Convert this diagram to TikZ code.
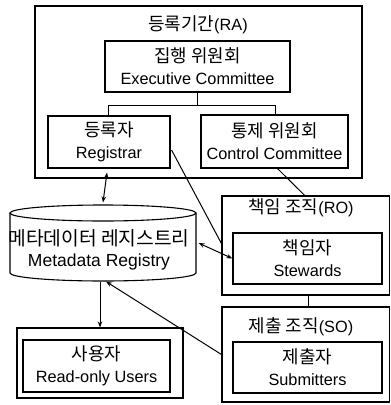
\documentclass[tikz,border=0pt]{standalone}
\usepackage{fontspec}
\setmainfont{Liberation Sans}
\newfontfamily\kr[Scale=1.1]{Noto Sans CJK KR}
\usetikzlibrary{arrows.meta,calc}
\begin{document}
\begin{tikzpicture}[x=1pt,y=-1pt,
  box/.style={draw,line width=1.1pt,rectangle,inner sep=0pt,align=center,
    font=\fontsize{16.3}{22}\selectfont},
  lbl/.style={inner sep=0pt,font=\fontsize{16.3}{22}\selectfont},
  ln/.style={line width=1pt},
  arr/.style={line width=1pt,-{Stealth[length=6pt,width=4.5pt]}},
  darr/.style={line width=1pt,{Stealth[length=6pt,width=4.5pt]}-{Stealth[length=6pt,width=4.5pt]}}]
\useasboundingbox (0,0) rectangle (391,405);
% RA group
\node[box,minimum width=327,minimum height=172] (ra) at (198.5,92) {};
\node[lbl] (ratitle) at (198,25) {{\kr 등록기간}(RA)};
\node[box,minimum width=185,minimum height=51] (exec) at (197.5,66.5) {{\kr 집행 위원회}\\Executive Committee};
\node[box,minimum width=122,minimum height=52] (reg) at (109,142) {{\kr 등록자}\\Registrar};
\node[box,minimum width=147,minimum height=53] (ctrl) at (274.5,141.5) {{\kr 통제 위원회}\\Control Committee};
\coordinate (junc) at ($(exec.south)+(0,13)$);
\coordinate (jl) at (108,105);
\coordinate (jr) at (275,105);
\draw[ln] (exec.south) -- (junc);
\draw[ln] (reg.north -| jl) -- (jl) -- (jr) -- (ctrl.north -| jr);
% RO group
\node[box,minimum width=167.5,minimum height=99] (ro) at (305.75,245.5) {};
\node[lbl] (rotitle) at (301,208) {{\kr 책임 조직}(RO)};
\node[box,minimum width=149,minimum height=51] (stew) at (307.5,258.5) {{\kr 책임자}\\Stewards};
% SO group
\node[box,minimum width=167.5,minimum height=95] (so) at (305.75,354.5) {};
\node[lbl] (sotitle) at (301,327) {{\kr 제출 조직}(SO)};
\node[box,minimum width=149,minimum height=51] (sub) at (307.5,367.5) {{\kr 제출자}\\Submitters};
\coordinate (rs) at (308,300);
\draw[ln] (ro.south -| rs) -- (so.north -| rs);
% Users
\node[box,minimum width=166,minimum height=70] (users) at (100,363) {};
\node[box,minimum width=147,minimum height=52] (usin) at (96.5,366) {{\kr 사용자}\\Read-only Users};
% Metadata registry cylinder
\draw[line width=1.1pt] (10,213) -- (10,273) arc[start angle=180,end angle=0,x radius=93,y radius=8] -- (196,213);
\draw[line width=1.1pt] (103,213) ellipse[x radius=93,y radius=8];
\node[box,draw=none,minimum width=186,minimum height=76] (mdr) at (103,243) {};
\node[lbl,align=center,font=\fontsize{17.5}{21}\selectfont] (mdrt) at (99,250) {{\kr 메타데이터 레지스트리}\\Metadata Registry};
% connectors
\draw[darr] ($(reg.south)+(-2,4)$) -- ($(mdr.north)+(0,-2)$);
\draw[ln] ($(reg.east)+(1,8)$) -- ($(ro.west)+(0,-2)$);
\draw[ln] ($(ctrl.south)+(3,0)$) -- ($(ro.north)+(-1,0)$);
\draw[darr] ($(mdr.east)+(2,0)$) -- (stew.west);
\draw[arr] (so.west) -- ($(mdr.south)+(3,0)$);
\draw[arr] ($(mdr.south)+(-3,0)$) -- (users.north -| 100,0);
\end{tikzpicture}
\end{document}
